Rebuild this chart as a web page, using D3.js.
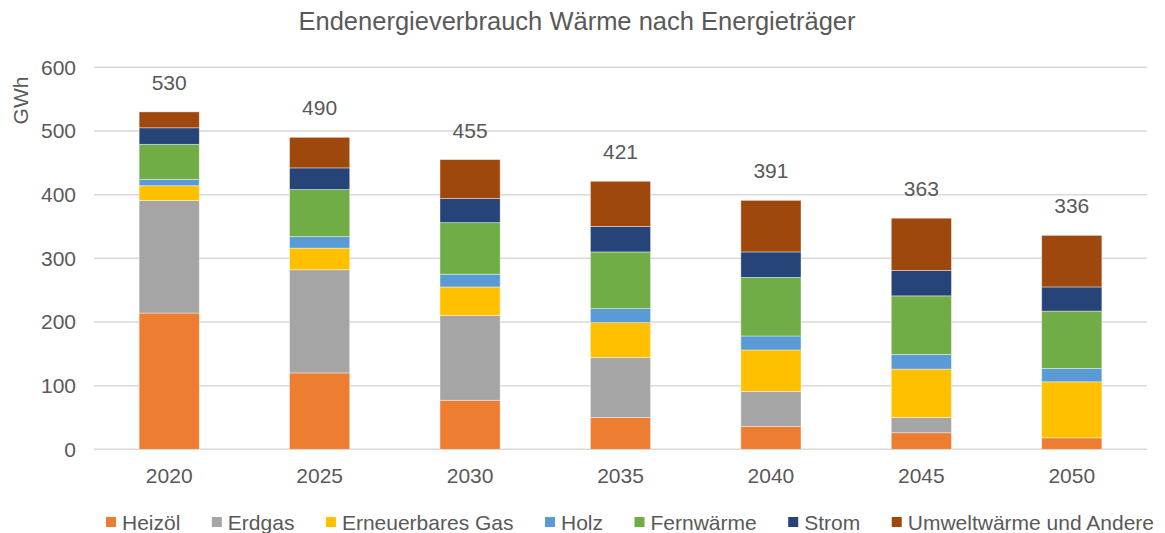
<!DOCTYPE html>
<html>
<head>
<meta charset="utf-8">
<script src="https://cdn.jsdelivr.net/npm/d3@7"></script>
<style>
    body { margin: 0; background: #ffffff; }
    text { font-family: "Liberation Sans", Arial, sans-serif; fill: #595959; }
</style>
</head>
<body>
<div id="chart"></div>
<script>
let width = 1165;
let height = 533;

let years = ["2020", "2025", "2030", "2035", "2040", "2045", "2050"];
let carriers = ["Heizöl", "Erdgas", "Erneuerbares Gas", "Holz", "Fernwärme", "Strom", "Umweltwärme und Andere"];
let colors = ["#ED7D31", "#A5A5A5", "#FFC000", "#5B9BD5", "#70AD47", "#264478", "#9E480E"];

// GWh per carrier, one value per year
let heizoel = [214, 120, 77, 50, 36, 26, 18];
let erdgas = [177, 162, 133, 94, 55, 24, 0];
let erneuerbaresGas = [23, 34, 45, 55, 65, 76, 88];
let holz = [10, 18, 20, 22, 22, 23, 21];
let fernwaerme = [55, 74, 81, 89, 92, 92, 90];
let strom = [26, 34, 38, 40, 40, 40, 38];
let umwelt = [25, 48, 61, 71, 81, 82, 81];
let totals = [530, 490, 455, 421, 391, 363, 336];
let yTicks = [0, 100, 200, 300, 400, 500, 600];

let series = [heizoel, erdgas, erneuerbaresGas, holz, fernwaerme, strom, umwelt];

let margin = { top: 67.3, left: 94, right: 18, bottom: 83.7 };

let rows = years.map(function (y, i) {
    let row = { year: y };
    carriers.forEach(function (c, k) { row[c] = series[k][i]; });
    return row;
});

let stacked = d3.stack().keys(carriers)(rows);

let svg = d3.select("#chart")
    .append("svg")
    .attr("width", width)
    .attr("height", height);

let x = d3.scaleBand()
    .domain(years)
    .range([margin.left, width - margin.right])
    .paddingInner(0.6)
    .paddingOuter(0.3);

let y = d3.scaleLinear()
    .domain([0, 600])
    .range([height - margin.bottom, margin.top]);

// grid lines
svg.append("g")
    .selectAll("line")
    .data(yTicks)
    .enter()
    .append("line")
    .attr("x1", margin.left)
    .attr("x2", width - margin.right)
    .attr("y1", d => y(d))
    .attr("y2", d => y(d))
    .attr("stroke", "#D9D9D9")
    .attr("stroke-width", 1.5);

let yAxis = svg.append("g")
    .attr("transform", "translate(" + (margin.left - 18) + ",0)")
    .call(d3.axisLeft(y).tickValues(yTicks).tickSize(0).tickPadding(0));
yAxis.select(".domain").remove();
yAxis.selectAll("text")
    .attr("font-size", 21)
    .attr("font-family", "Liberation Sans, Arial, sans-serif")
    .attr("fill", "#595959");

let xAxis = svg.append("g")
    .attr("transform", "translate(0," + (height - margin.bottom) + ")")
    .call(d3.axisBottom(x).tickSize(0).tickPadding(19));
xAxis.select(".domain").remove();
xAxis.selectAll("text")
    .attr("font-size", 21)
    .attr("font-family", "Liberation Sans, Arial, sans-serif")
    .attr("fill", "#595959");

// stacked bars
svg.append("g")
    .selectAll("g")
    .data(stacked)
    .enter()
    .append("g")
    .attr("fill", (d, i) => colors[i])
    .selectAll("rect")
    .data(d => d)
    .enter()
    .append("rect")
    .attr("x", d => x(d.data.year))
    .attr("width", x.bandwidth())
    .attr("y", d => y(d[1]))
    .attr("height", d => y(d[0]) - y(d[1]))
    .attr("stroke", "#ffffff")
    .attr("stroke-opacity", 0.5)
    .attr("stroke-width", 0.8);

// totals above bars
svg.append("g")
    .selectAll("text")
    .data(totals)
    .enter()
    .append("text")
    .attr("x", (d, i) => x(years[i]) + x.bandwidth() / 2)
    .attr("y", d => y(d) - 22)
    .attr("text-anchor", "middle")
    .attr("font-size", 21)
    .text(d => d);

// title
svg.append("text")
    .attr("x", 577)
    .attr("y", 30)
    .attr("text-anchor", "middle")
    .attr("font-size", 25.5)
    .text("Endenergieverbrauch Wärme nach Energieträger");

// y axis label
svg.append("text")
    .attr("transform", "translate(28,100.5) rotate(-90)")
    .attr("text-anchor", "middle")
    .attr("font-size", 21)
    .text("GWh");

// legend
let legend = svg.append("g").attr("transform", "translate(106,522)");
let lx = 0;
carriers.forEach(function (c, i) {
    let item = legend.append("g").attr("transform", "translate(" + lx + ",0)");
    item.append("rect")
        .attr("x", 0)
        .attr("y", -5)
        .attr("width", 10)
        .attr("height", 10)
        .attr("fill", colors[i]);
    let t = item.append("text")
        .attr("x", 16)
        .attr("y", 7.5)
        .attr("font-size", 21)
        .text(c);
    lx += 16 + t.node().getComputedTextLength() + 31.5;
});
</script>
</body>
</html>
